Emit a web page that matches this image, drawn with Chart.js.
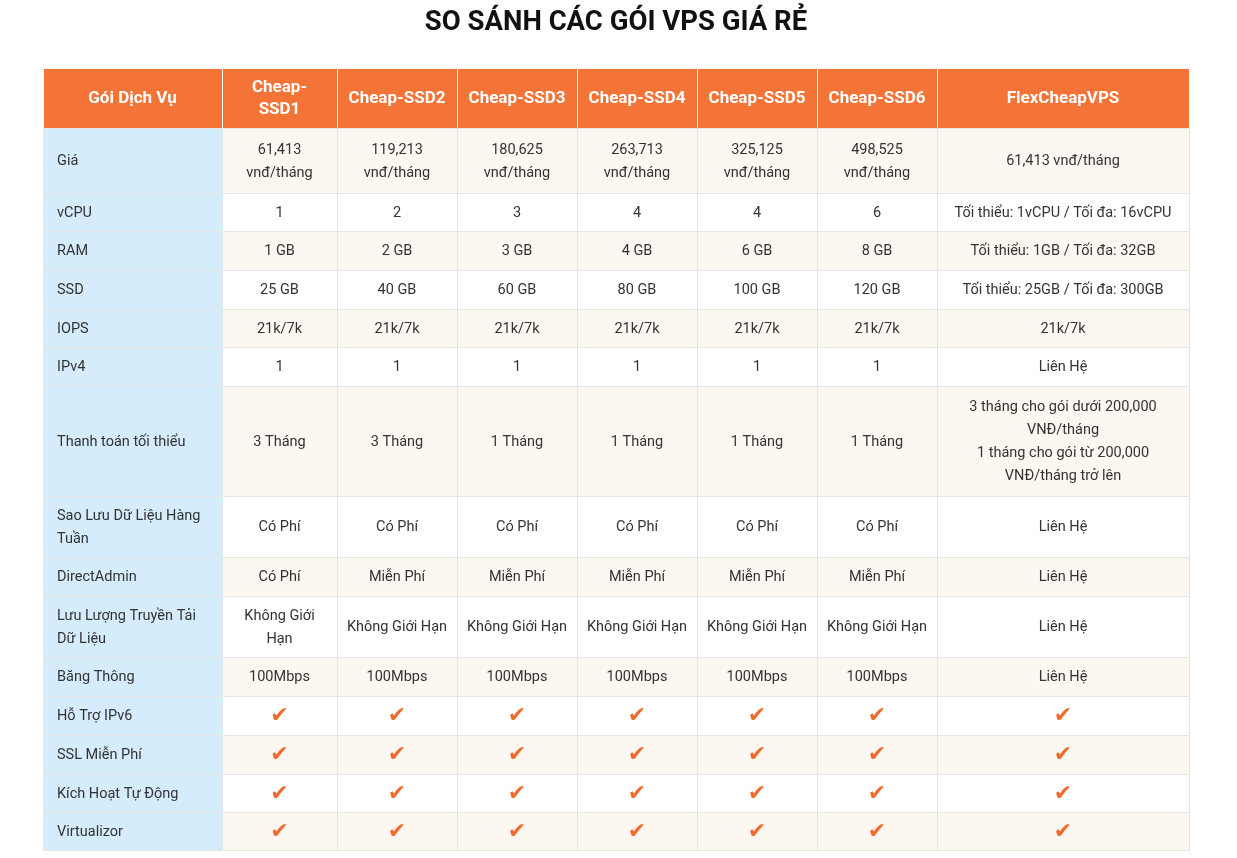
<!DOCTYPE html>
<html>
<head>
<meta charset="utf-8">
<script src="https://cdn.jsdelivr.net/npm/chart.js@4"></script>
<style>
  html, body { margin: 0; padding: 0; background: #fff; }
  #wrap { width: 1237px; height: 858px; }
</style>
</head>
<body>
<div id="wrap"><canvas id="table"></canvas></div>
<script>
const title = "SO SÁNH CÁC GÓI VPS GIÁ RẺ";
const headerLabel = "Gói Dịch Vụ";
const plans = ["Cheap-\nSSD1", "Cheap-SSD2", "Cheap-SSD3", "Cheap-SSD4", "Cheap-SSD5", "Cheap-SSD6", "FlexCheapVPS"];
const rowLabels = ["Giá", "vCPU", "RAM", "SSD", "IOPS", "IPv4", "Thanh toán tối thiểu",
  "Sao Lưu Dữ Liệu Hàng\nTuần", "DirectAdmin", "Lưu Lượng Truyền Tải\nDữ Liệu", "Băng Thông",
  "Hỗ Trợ IPv6", "SSL Miễn Phí", "Kích Hoạt Tự Động", "Virtualizor"];

const CHECK = "✔";
const priceRow = ["61,413\nvnđ/tháng", "119,213\nvnđ/tháng", "180,625\nvnđ/tháng", "263,713\nvnđ/tháng", "325,125\nvnđ/tháng", "498,525\nvnđ/tháng", "61,413 vnđ/tháng"];
const vcpuRow = ["1", "2", "3", "4", "4", "6", "Tối thiểu: 1vCPU / Tối đa: 16vCPU"];
const ramRow = ["1 GB", "2 GB", "3 GB", "4 GB", "6 GB", "8 GB", "Tối thiểu: 1GB / Tối đa: 32GB"];
const ssdRow = ["25 GB", "40 GB", "60 GB", "80 GB", "100 GB", "120 GB", "Tối thiểu: 25GB / Tối đa: 300GB"];
const iopsRow = ["21k/7k", "21k/7k", "21k/7k", "21k/7k", "21k/7k", "21k/7k", "21k/7k"];
const ipv4Row = ["1", "1", "1", "1", "1", "1", "Liên Hệ"];
const payRow = ["3 Tháng", "3 Tháng", "1 Tháng", "1 Tháng", "1 Tháng", "1 Tháng",
  "3 tháng cho gói dưới 200,000\nVNĐ/tháng\n1 tháng cho gói từ 200,000\nVNĐ/tháng trở lên"];
const backupRow = ["Có Phí", "Có Phí", "Có Phí", "Có Phí", "Có Phí", "Có Phí", "Liên Hệ"];
const daRow = ["Có Phí", "Miễn Phí", "Miễn Phí", "Miễn Phí", "Miễn Phí", "Miễn Phí", "Liên Hệ"];
const trafficRow = ["Không Giới\nHạn", "Không Giới Hạn", "Không Giới Hạn", "Không Giới Hạn", "Không Giới Hạn", "Không Giới Hạn", "Liên Hệ"];
const bwRow = ["100Mbps", "100Mbps", "100Mbps", "100Mbps", "100Mbps", "100Mbps", "Liên Hệ"];
const ipv6Row = [CHECK, CHECK, CHECK, CHECK, CHECK, CHECK, CHECK];
const sslRow = [CHECK, CHECK, CHECK, CHECK, CHECK, CHECK, CHECK];
const autoRow = [CHECK, CHECK, CHECK, CHECK, CHECK, CHECK, CHECK];
const virtRow = [CHECK, CHECK, CHECK, CHECK, CHECK, CHECK, CHECK];
const rows = [priceRow, vcpuRow, ramRow, ssdRow, iopsRow, ipv4Row, payRow, backupRow, daRow, trafficRow, bwRow, ipv6Row, sslRow, autoRow, virtRow];

// layout: column widths and row heights in scale units
const colWidths = [179, 115, 120, 120, 120, 120, 120, 252];
const rowHeights = [60, 65, 38, 39, 39, 38, 39, 110, 61, 39, 61, 39, 39, 39, 38, 38];

const colEdges = [0];
colWidths.forEach(w => colEdges.push(colEdges[colEdges.length - 1] + w));
const rowEdges = [0];
rowHeights.forEach(h => rowEdges.push(rowEdges[rowEdges.length - 1] + h));

const orange = "#f47336";
const blue = "#d5ecfc";
const beige = "#fdf7f2";
const border = "#e6e6e6";
const textColor = "#333333";

function drawLines(ctx, text, x, y, lineH) {
  const lines = text.split("\n");
  const y0 = y - (lines.length - 1) * lineH / 2;
  lines.forEach((l, i) => ctx.fillText(l, x, y0 + i * lineH));
}

const tablePlugin = {
  id: "tableCells",
  beforeDraw(chart) {
    const ctx = chart.ctx;
    const xs = chart.scales.x, ys = chart.scales.y;
    const px = v => xs.getPixelForValue(v);
    const py = v => ys.getPixelForValue(v);
    ctx.save();
    ctx.fillStyle = "#111";
    ctx.font = "bold 27.5px Roboto";
    ctx.textAlign = "center";
    ctx.textBaseline = "middle";
    ctx.fillText(title, 616, 23);

    for (let r = 0; r < rowHeights.length; r++) {
      for (let c = 0; c < colWidths.length; c++) {
        const x0 = px(colEdges[c]), x1 = px(colEdges[c + 1]);
        const y0 = py(rowEdges[r]), y1 = py(rowEdges[r + 1]);
        let bg;
        if (r === 0) bg = orange;
        else if (c === 0) bg = blue;
        else bg = (r % 2 === 1) ? beige : "#ffffff";
        ctx.fillStyle = bg;
        ctx.fillRect(x0, y0, x1 - x0, y1 - y0);
        ctx.strokeStyle = r === 0 ? "#ffffff" : border;
        ctx.lineWidth = 1;
        ctx.strokeRect(Math.round(x0) + 0.5, Math.round(y0) + 0.5, x1 - x0, y1 - y0);

        const cy = (y0 + y1) / 2 + 1;
        let text;
        if (r === 0) {
          text = c === 0 ? headerLabel : plans[c - 1];
          ctx.fillStyle = "#ffffff";
          ctx.font = "bold 17px Roboto";
          ctx.textAlign = "center";
          drawLines(ctx, text, (x0 + x1) / 2, cy, 22);
        } else if (c === 0) {
          ctx.fillStyle = textColor;
          ctx.font = "14.5px Roboto";
          ctx.textAlign = "left";
          drawLines(ctx, rowLabels[r - 1], x0 + 14, cy, 23);
        } else {
          text = rows[r - 1][c - 1];
          ctx.textAlign = "center";
          if (text === CHECK) {
            ctx.fillStyle = "#f26a2b";
            ctx.font = "bold 22px 'DejaVu Sans'";
          } else {
            ctx.fillStyle = textColor;
            ctx.font = "14.5px Roboto";
          }
          drawLines(ctx, text, (x0 + x1) / 2, cy, 23);
        }
      }
    }
    ctx.restore();
  }
};

new Chart(document.getElementById("table"), {
  type: "scatter",
  data: { datasets: [{ data: [], pointRadius: 0 }] },
  options: {
    responsive: true,
    maintainAspectRatio: false,
    animation: false,
    layout: { padding: { left: 43, right: 48, top: 68, bottom: 8 } },
    plugins: { legend: { display: false }, tooltip: { enabled: false } },
    scales: {
      x: { type: "linear", display: false, min: 0, max: colEdges[colEdges.length - 1] },
      y: { type: "linear", display: false, reverse: true, min: 0, max: rowEdges[rowEdges.length - 1] },
    },
  },
  plugins: [tablePlugin],
});
</script>
</body>
</html>
